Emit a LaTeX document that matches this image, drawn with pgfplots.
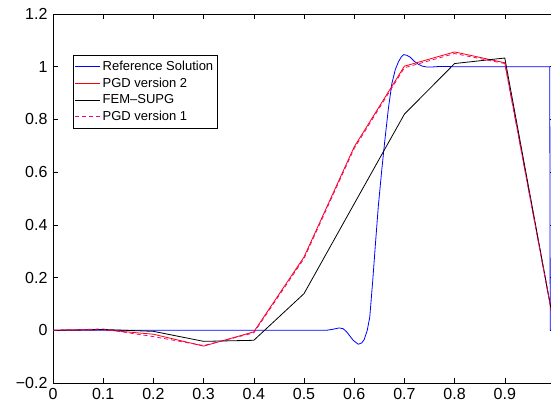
\documentclass[border=0pt]{standalone}
\usepackage{pgfplots}
\pgfplotsset{compat=1.18}
\usepackage{fontspec}
\setmainfont{Liberation Sans}

\begin{document}
\begin{tikzpicture}
\begin{scope}
\clip (0,0) rectangle (551pt,409pt);
\begin{axis}[
    at={(53pt,26pt)}, anchor=south west,
    scale only axis,
    width=502pt, height=369pt,
    xmin=0, xmax=1, ymin=-0.2, ymax=1.2,
    xtick={0,0.1,...,1.0},
    xticklabels={0,0.1,0.2,0.3,0.4,0.5,0.6,0.7,0.8,0.9,{}},
    ytick={-0.2,0,0.2,0.4,0.6,0.8,1,1.2},
    yticklabels={−0.2,0,0.2,0.4,0.6,0.8,1,1.2},
    tick align=inside, tick pos=both,
    major tick length=5pt,
    tick style={black, line width=0.6pt},
    axis line style={line width=0.9pt},
    ticklabel style={font=\fontsize{16}{18}\selectfont},
    xticklabel style={yshift=-2pt},
    yticklabel style={xshift=-2pt},
    legend cell align=left,
    legend style={at={(0.04,0.889)}, anchor=north west,
        font=\fontsize{13}{15}\selectfont,
        inner xsep=1.5pt, inner ysep=3.5pt, row sep=2.1pt},
    legend image code/.code={\draw[mark repeat=2,mark phase=2,#1,line width=0.9pt]
        plot coordinates {(0pt,0pt) (12.5pt,0pt) (25pt,0pt)};},
]
\addplot[blue, line width=0.8pt] coordinates {
 (0,0) (0.1,0) (0.2,0) (0.3,0) (0.4,0) (0.5,0) (0.545,0) (0.558,0.004)
 (0.570,0.009) (0.578,0.006) (0.585,-0.006) (0.598,-0.038) (0.608,-0.053)
 (0.615,-0.048) (0.620,-0.035) (0.626,0.0) (0.631,0.05) (0.637,0.19)
 (0.642,0.32) (0.648,0.47) (0.655,0.61) (0.661,0.72) (0.668,0.84)
 (0.675,0.936) (0.682,0.99) (0.688,1.018) (0.694,1.038) (0.699,1.046)
 (0.705,1.043) (0.711,1.037) (0.720,1.02) (0.728,1.009) (0.736,1.002)
 (0.744,0.999) (0.755,0.999) (0.771,1.001) (0.8,1.0) (0.85,1.0) (0.9,1.0)
 (0.95,1.0) (0.9895,1.0) (0.9905,0) (1,0)
};
\addlegendentry{Reference Solution}
\addplot[red, line width=0.8pt] coordinates {
 (0,0) (0.1,0.002) (0.2,-0.015) (0.3,-0.06) (0.4,-0.006) (0.5,0.278)
 (0.6,0.696) (0.7,1.002) (0.8,1.056) (0.9,1.015) (1.0,0.0)
};
\addlegendentry{PGD version 2}
\addplot[black, line width=0.8pt] coordinates {
 (0,0) (0.1,0.003) (0.2,-0.004) (0.3,-0.042) (0.4,-0.038) (0.5,0.139)
 (0.6,0.48) (0.7,0.82) (0.8,1.012) (0.9,1.033) (1.0,0.0)
};
\addlegendentry{FEM--SUPG}
\addplot[magenta, line width=0.8pt, dash pattern=on 4pt off 3pt] coordinates {
 (0,0) (0.1,0.005) (0.2,-0.024) (0.3,-0.058) (0.4,-0.01) (0.5,0.272)
 (0.6,0.69) (0.7,0.996) (0.8,1.05) (0.9,1.012) (1.0,0.0)
};
\addlegendentry{PGD version 1}
\end{axis}
\end{scope}
\pgfresetboundingbox
\useasboundingbox (0,0) rectangle (551pt,409pt);
\end{tikzpicture}
\end{document}
